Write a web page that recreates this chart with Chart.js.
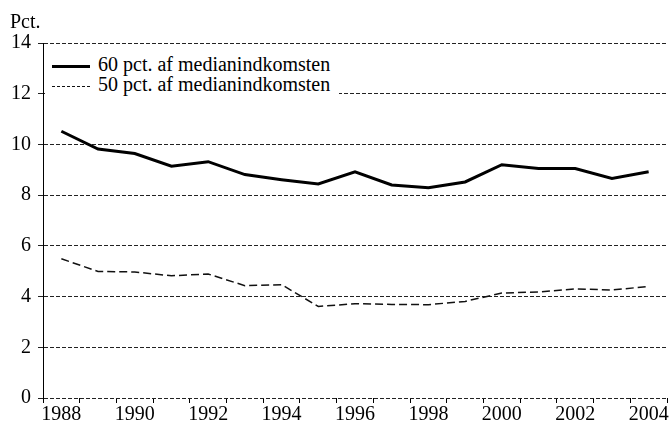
<!DOCTYPE html>
<html>
<head>
<meta charset="utf-8">
<script src="https://cdn.jsdelivr.net/npm/chart.js@4"></script>
<style>
  body { margin: 0; background: #fff; }
  #wrap { position: relative; width: 671px; height: 425px; font-family: 'Liberation Serif', 'Times New Roman', serif; }
  #enhed { position: absolute; left: 10px; top: 10px; font-size: 20px; color: #000; }
  #legende { position: absolute; left: 45px; top: 50px; width: 294px; height: 48px; background: #fff; }
  .raekke { position: absolute; left: 7px; height: 20px; line-height: 20px; font-size: 20px; white-space: nowrap; }
  .prove { display: inline-block; width: 38px; vertical-align: middle; margin-right: 8px; }
</style>
</head>
<body>
<div id="wrap">
  <canvas id="fattigdomChart" width="671" height="425"></canvas>
  <div id="enhed">Pct.</div>
  <div id="legende">
    <div class="raekke" style="top:4px"><span class="prove" style="border-top:3px solid #000"></span>60 pct. af medianindkomsten</div>
    <div class="raekke" style="top:24px"><span class="prove" style="border-top:1.5px dashed #111"></span>50 pct. af medianindkomsten</div>
  </div>
</div>
<script>
const aar = ['1988', '1989', '1990', '1991', '1992', '1993', '1994', '1995', '1996',
             '1997', '1998', '1999', '2000', '2001', '2002', '2003', '2004'];
const pct60 = [10.52, 9.82, 9.64, 9.14, 9.32, 8.81, 8.61, 8.44, 8.92,
               8.40, 8.29, 8.52, 9.20, 9.05, 9.05, 8.66, 8.92];
const pct50 = [5.49, 4.99, 4.97, 4.82, 4.89, 4.43, 4.47, 3.61, 3.72,
               3.69, 3.68, 3.81, 4.14, 4.18, 4.30, 4.26, 4.40];
const yTicks = [0, 2, 4, 6, 8, 10, 12, 14];

const skrift = { family: "'Liberation Serif', 'Times New Roman', serif", size: 20 };

function lavGraf() {
    const ctx = document.getElementById('fattigdomChart').getContext('2d');
    new Chart(ctx, {
        type: 'line',
        data: {
            labels: aar,
            datasets: [{
                label: '60 pct. af medianindkomsten',
                data: pct60,
                borderColor: '#000',
                borderWidth: 3,
                pointRadius: 0,
                tension: 0
            },
            {
                label: '50 pct. af medianindkomsten',
                data: pct50,
                borderColor: '#111',
                borderWidth: 1.5,
                borderDash: [8, 4],
                pointRadius: 0,
                tension: 0
            }]
        },
        options: {
            responsive: false,
            animation: false,
            layout: { padding: { top: 43, right: 4, left: 0, bottom: 0 } },
            plugins: {
                legend: { display: false },
                tooltip: { enabled: false }
            },
            scales: {
                x: {
                    offset: true,
                    afterFit: (s) => { s.height = 27; },
                    border: { display: false },
                    grid: { drawOnChartArea: false, drawTicks: true, tickLength: 5, color: '#000', offset: true },
                    ticks: {
                        autoSkip: false,
                        maxRotation: 0,
                        padding: 0,
                        color: '#000',
                        font: skrift,
                        callback: (v, i) => (i % 2 === 0 ? aar[i] : '')
                    }
                },
                y: {
                    min: 0,
                    max: 14,
                    afterFit: (s) => { s.width = 43; },
                    afterBuildTicks: (s) => { s.ticks = yTicks.map(v => ({ value: v })); },
                    // i v4 styrer border.dash gitterlinjernes stiplinger
                    border: { color: '#000', dash: [4, 2] },
                    grid: { color: '#222', tickLength: 5, tickBorderDash: [] },
                    ticks: { color: '#000', font: skrift, padding: 7 }
                }
            }
        }
    });
}

document.addEventListener('DOMContentLoaded', lavGraf);
</script>
</body>
</html>
